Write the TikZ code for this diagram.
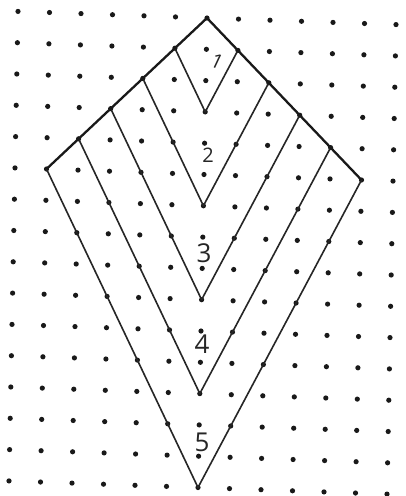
\documentclass[tikz,border=0pt]{standalone}
\usepackage{fontspec}
\setmainfont{Open Sans}
\begin{document}
\begin{tikzpicture}[x=1pt,y=1pt,
  gdot/.style={fill=black!90},
  vline/.style={draw=black!85,line width=1.6pt,line join=round},
  outline/.style={draw=black!90,line width=2.3pt,line join=round},
  numlab/.style={font=\fontsize{26}{26}\selectfont,text=black!85,inner sep=0pt}]
\useasboundingbox (0,0) rectangle (405,-496);
\fill[white] (0,0) rectangle (405,-496);
\begin{scope}[shift={(18pt,-11.4pt)},x={(31.5pt,-1.1pt)},y={(-0.6pt,-31.3pt)}]
  \foreach \c in {0,...,12}
    \foreach \r in {0,...,15}
      \fill[gdot] (\c,\r) circle[radius=2.6pt];
  \coordinate (T) at (6,0);
  \coordinate (L1) at (5,1); \coordinate (B1) at (6,3);  \coordinate (R1) at (7,1);
  \coordinate (L2) at (4,2); \coordinate (B2) at (6,6);  \coordinate (R2) at (8,2);
  \coordinate (L3) at (3,3); \coordinate (B3) at (6,9);  \coordinate (R3) at (9,3);
  \coordinate (L4) at (2,4); \coordinate (B4) at (6,12); \coordinate (R4) at (10,4);
  \coordinate (L5) at (1,5); \coordinate (B5) at (6,15); \coordinate (R5) at (11,5);
\end{scope}
\draw[vline] (L1) -- (B1) -- (R1);
\draw[vline] (L2) -- (B2) -- (R2);
\draw[vline] (L3) -- (B3) -- (R3);
\draw[vline] (L4) -- (B4) -- (R4);
\draw[vline] (L5) -- (B5) -- (R5);
\draw[outline] (L5) -- (T) -- (R5);
\node[numlab,rotate=-25,font=\fontsize{20}{20}\selectfont] (n1) at (217,-61) {1};
\node[numlab,font=\fontsize{20}{20}\selectfont] (n2) at (208,-155) {2};
\node[numlab] (n3) at (204,-253) {3};
\node[numlab] (n4) at (202,-344) {4};
\node[numlab] (n5) at (202,-442) {5};
\end{tikzpicture}
\end{document}
